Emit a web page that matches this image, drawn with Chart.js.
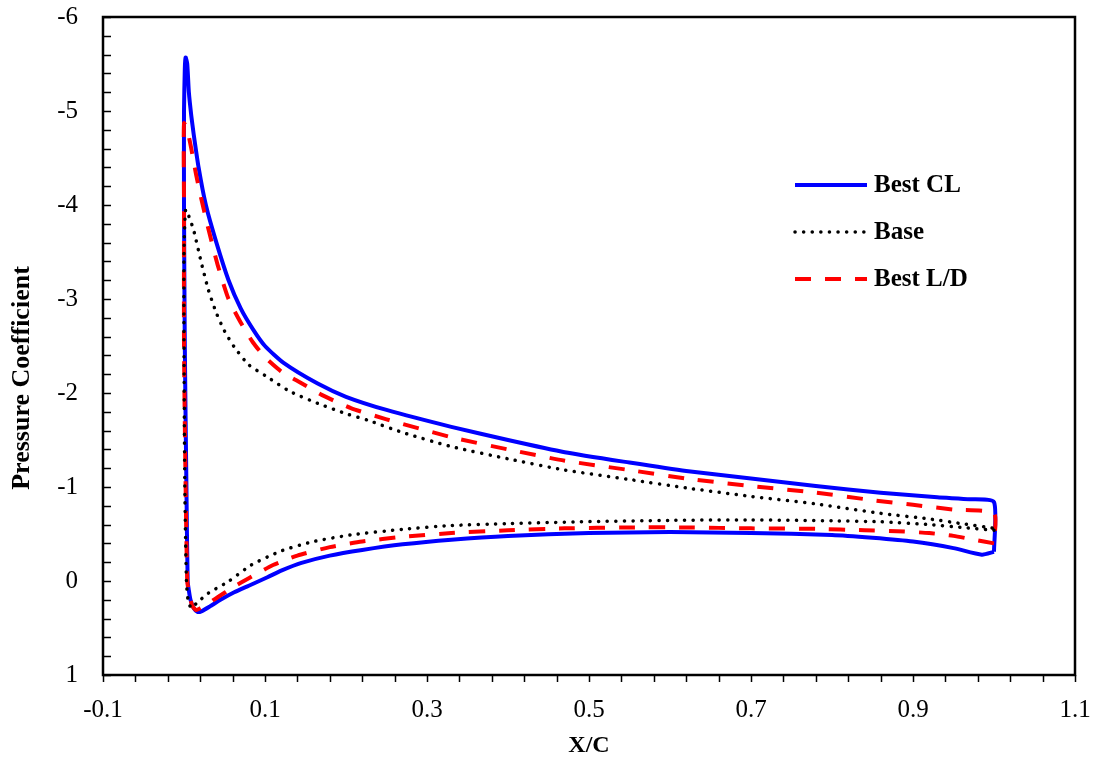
<!DOCTYPE html>
<html lang="en">
<head>
    <meta charset="UTF-8">
    <title>Pressure Coefficient - X/C</title>
    <script src="https://cdn.jsdelivr.net/npm/chart.js"></script>
    <style>
        body {
            margin: 0;
            background-color: white;
        }
        .wrap {
            width: 1097px;
            height: 760px;
        }
    </style>
</head>
<body>
    <div class="wrap">
        <canvas id="cp-chart" width="1097" height="760"></canvas>
    </div>

    <script>
        // values
        // each curve is one closed loop: lower surface TE -> LE, then upper surface LE -> TE
        const bestClX = [1.000, 0.985, 0.950, 0.900, 0.850, 0.800, 0.700, 0.600, 0.500, 0.400, 0.330, 0.270, 0.220, 0.180, 0.144, 0.120, 0.103, 0.080, 0.062, 0.045, 0.032, 0.022, 0.017, 0.012, 0.008, 0.006, 0.0045, 0.003, 0.001, 0.000, 0.000, 0.001, 0.002, 0.004, 0.006, 0.009, 0.012, 0.018, 0.027, 0.040, 0.055, 0.070, 0.085, 0.100, 0.123, 0.165, 0.200, 0.250, 0.330, 0.400, 0.470, 0.550, 0.620, 0.700, 0.780, 0.860, 0.930, 0.970, 1.000, 1.000];
        const bestClCp = [-0.31, -0.28, -0.35, -0.42, -0.46, -0.49, -0.51, -0.52, -0.51, -0.48, -0.44, -0.39, -0.33, -0.27, -0.19, -0.11, -0.04, 0.05, 0.12, 0.20, 0.27, 0.32, 0.33, 0.29, 0.20, 0.10, 0.00, -1.00, -2.50, -4.00, -5.00, -5.45, -5.57, -5.50, -5.20, -4.95, -4.75, -4.40, -4.00, -3.60, -3.20, -2.90, -2.68, -2.50, -2.32, -2.10, -1.96, -1.82, -1.64, -1.50, -1.37, -1.26, -1.17, -1.09, -1.01, -0.94, -0.89, -0.87, -0.84, -0.31];

        const baseX = [1.000, 0.960, 0.920, 0.860, 0.800, 0.700, 0.600, 0.490, 0.400, 0.330, 0.270, 0.206, 0.160, 0.120, 0.083, 0.054, 0.030, 0.015, 0.009, 0.005, 0.003, 0.001, 0.000, 0.000, 0.002, 0.006, 0.012, 0.021, 0.030, 0.040, 0.050, 0.062, 0.080, 0.103, 0.130, 0.165, 0.200, 0.227, 0.270, 0.330, 0.400, 0.470, 0.550, 0.620, 0.700, 0.780, 0.860, 0.920, 0.960, 1.000, 1.000];
        const baseCp = [-0.54, -0.57, -0.60, -0.63, -0.64, -0.65, -0.645, -0.63, -0.61, -0.59, -0.55, -0.49, -0.42, -0.32, -0.17, 0.01, 0.13, 0.24, 0.29, 0.20, 0.00, -1.00, -2.50, -3.50, -3.95, -3.88, -3.73, -3.40, -3.10, -2.85, -2.66, -2.49, -2.30, -2.17, -2.02, -1.89, -1.78, -1.71, -1.58, -1.43, -1.30, -1.18, -1.08, -0.99, -0.90, -0.82, -0.72, -0.66, -0.61, -0.56, -0.54];

        const bestLdX = [1.000, 0.975, 0.950, 0.920, 0.880, 0.840, 0.780, 0.700, 0.620, 0.550, 0.470, 0.400, 0.330, 0.270, 0.220, 0.180, 0.140, 0.110, 0.080, 0.060, 0.042, 0.030, 0.020, 0.015, 0.010, 0.006, 0.004, 0.002, 0.000, 0.000, 0.000, 0.004, 0.009, 0.015, 0.021, 0.030, 0.042, 0.055, 0.070, 0.085, 0.100, 0.120, 0.144, 0.170, 0.206, 0.250, 0.330, 0.400, 0.470, 0.550, 0.620, 0.700, 0.780, 0.850, 0.900, 0.950, 1.000, 1.000];
        const bestLdCp = [-0.40, -0.44, -0.48, -0.51, -0.53, -0.54, -0.555, -0.56, -0.57, -0.57, -0.56, -0.54, -0.51, -0.47, -0.42, -0.36, -0.27, -0.17, -0.03, 0.07, 0.17, 0.24, 0.29, 0.31, 0.26, 0.12, 0.00, -1.00, -2.50, -4.00, -4.87, -4.80, -4.60, -4.32, -4.08, -3.75, -3.35, -3.00, -2.75, -2.54, -2.38, -2.23, -2.11, -1.98, -1.84, -1.72, -1.53, -1.40, -1.28, -1.18, -1.09, -1.01, -0.94, -0.86, -0.81, -0.76, -0.72, -0.40];

        const xTicks = [-0.1, 0.1, 0.3, 0.5, 0.7, 0.9, 1.1];
        const yTicks = [-6, -5, -4, -3, -2, -1, 0, 1];
        const legendLabels = ['Best CL', 'Base', 'Best L/D'];
        const yTitle = 'Pressure Coefficient';

        const serif = "'Liberation Serif', 'Times New Roman', serif";

        function toPoints(xs, ys) {
            return xs.map((v, i) => ({ x: v, y: ys[i] }));
        }

        // box frame plus tick marks (x outward, y inward) with 4 minor ticks between labels
        const frameTicks = {
            id: 'frameTicks',
            afterDraw(chart) {
                const ctx = chart.ctx;
                const a = chart.chartArea;
                const xs = chart.scales.x;
                const ys = chart.scales.y;
                ctx.save();
                ctx.strokeStyle = '#000';
                ctx.lineWidth = 1.5;
                ctx.beginPath();
                for (let i = 0; i < xTicks.length; i++) {
                    const steps = i < xTicks.length - 1 ? 5 : 1;
                    for (let k = 0; k < steps; k++) {
                        const v = i < xTicks.length - 1 ? xTicks[i] + (xTicks[i + 1] - xTicks[i]) * k / 5 : xTicks[i];
                        const px = Math.round(xs.getPixelForValue(v)) + 0.5;
                        ctx.moveTo(px, a.bottom);
                        ctx.lineTo(px, a.bottom + 7);
                    }
                }
                for (let i = 0; i < yTicks.length; i++) {
                    const steps = i < yTicks.length - 1 ? 5 : 1;
                    for (let k = 0; k < steps; k++) {
                        const v = i < yTicks.length - 1 ? yTicks[i] + (yTicks[i + 1] - yTicks[i]) * k / 5 : yTicks[i];
                        const py = Math.round(ys.getPixelForValue(v)) + 0.5;
                        ctx.moveTo(a.left, py);
                        ctx.lineTo(a.left + 8, py);
                    }
                }
                ctx.stroke();
                ctx.lineWidth = 2.5;
                ctx.strokeRect(a.left, a.top, a.right - a.left, a.bottom - a.top);

                // y axis title, sits a bit below the middle like the original
                ctx.save();
                ctx.translate(22, 378);
                ctx.rotate(-Math.PI / 2);
                ctx.fillStyle = '#000';
                ctx.font = 'bold 26px ' + serif;
                ctx.textAlign = 'center';
                ctx.textBaseline = 'middle';
                ctx.fillText(yTitle, 0, 0);
                ctx.restore();

                // legend inside the plot
                const ds = chart.data.datasets;
                [0, 1, 2].forEach((d, i) => {
                    const y = 185 + i * 47;
                    ctx.beginPath();
                    ctx.strokeStyle = ds[d].borderColor;
                    ctx.lineWidth = ds[d].borderWidth;
                    ctx.lineCap = ds[d].borderCapStyle || 'butt';
                    ctx.setLineDash(ds[d].borderDash || []);
                    ctx.moveTo(795, y);
                    ctx.lineTo(867, y);
                    ctx.stroke();
                    ctx.setLineDash([]);
                    ctx.fillStyle = '#000';
                    ctx.font = 'bold 25px ' + serif;
                    ctx.textBaseline = 'middle';
                    ctx.textAlign = 'left';
                    ctx.fillText(legendLabels[d], 874, y + 1);
                });
                ctx.restore();
            }
        };

        const ctx = document.getElementById('cp-chart').getContext('2d');
        new Chart(ctx, {
            type: 'scatter',
            data: {
                datasets: [{
                    label: legendLabels[0],
                    data: toPoints(bestClX, bestClCp),
                    borderColor: '#0000ff',
                    borderWidth: 4,
                    showLine: true,
                    pointRadius: 0,
                    tension: 0.2,
                    order: 3
                }, {
                    label: legendLabels[1],
                    data: toPoints(baseX, baseCp),
                    borderColor: '#000000',
                    borderWidth: 3.5,
                    borderDash: [0.1, 8.5],
                    borderCapStyle: 'round',
                    showLine: true,
                    pointRadius: 0,
                    tension: 0.2,
                    order: 1
                }, {
                    label: legendLabels[2],
                    data: toPoints(bestLdX, bestLdCp),
                    borderColor: '#ff0000',
                    borderWidth: 4,
                    borderDash: [16, 14],
                    showLine: true,
                    pointRadius: 0,
                    tension: 0.2,
                    order: 2
                }]
            },
            options: {
                responsive: false,
                animation: false,
                devicePixelRatio: 1,
                layout: {
                    padding: { top: 17, right: 22, left: 0, bottom: 0 }
                },
                plugins: {
                    legend: { display: false },
                    tooltip: { enabled: false }
                },
                scales: {
                    x: {
                        type: 'linear',
                        min: -0.1,
                        max: 1.1,
                        grid: { display: false, drawTicks: false },
                        border: { display: false },
                        afterBuildTicks: s => { s.ticks = xTicks.map(v => ({ value: v })); },
                        afterFit: s => {
                            s.height = 85;
                            s.paddingLeft = 0;
                            s.paddingRight = 0;
                        },
                        ticks: {
                            color: '#000',
                            padding: 20,
                            maxRotation: 0,
                            autoSkip: false,
                            font: { family: serif, size: 25 },
                            callback: v => Number(v).toFixed(1)
                        },
                        title: {
                            display: true,
                            text: 'X/C',
                            color: '#000',
                            font: { family: serif, size: 24, weight: 'bold' },
                            padding: { top: 0, bottom: 0 }
                        }
                    },
                    y: {
                        type: 'linear',
                        reverse: true,
                        min: -6,
                        max: 1,
                        grid: { display: false, drawTicks: false },
                        border: { display: false },
                        afterBuildTicks: s => { s.ticks = yTicks.map(v => ({ value: v })); },
                        afterFit: s => {
                            s.width = 103;
                            s.paddingTop = 0;
                            s.paddingBottom = 0;
                        },
                        ticks: {
                            color: '#000',
                            padding: 25,
                            autoSkip: false,
                            font: { family: serif, size: 25 },
                            callback: v => String(v)
                        }
                    }
                }
            },
            plugins: [frameTicks]
        });
    </script>
</body>
</html>
